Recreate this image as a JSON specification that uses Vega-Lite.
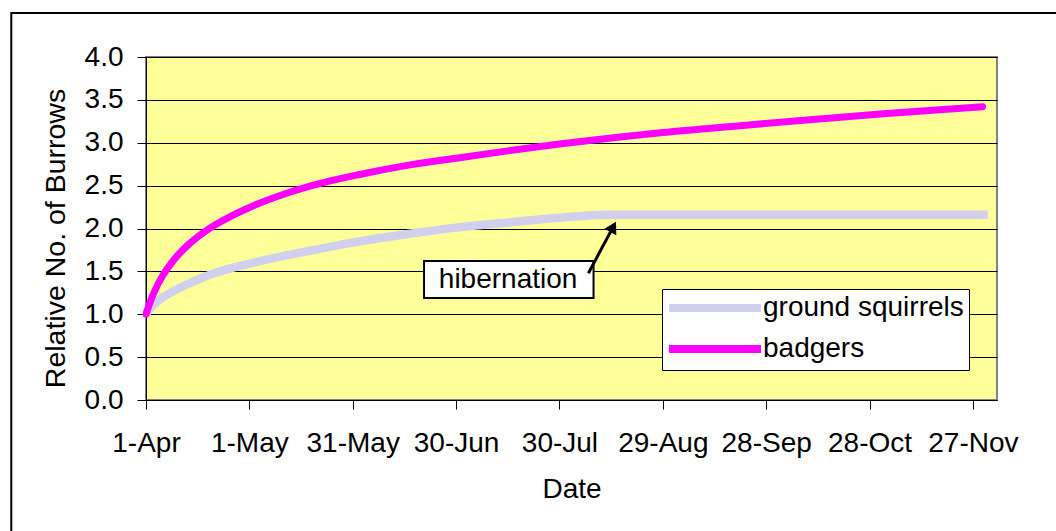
{
  "$schema": "https://vega.github.io/schema/vega-lite/v6.json",
  "width": 851,
  "height": 343,
  "autosize": {"type": "none"},
  "padding": {"left": 146, "top": 57, "right": 59, "bottom": 131},
  "background": "white",
  "config": {
    "font": "Liberation Sans",
    "view": {"fill": "#FFFF99", "stroke": "#808080", "strokeWidth": 2},
    "axis": {
      "labelFont": "Liberation Sans",
      "titleFont": "Liberation Sans",
      "labelColor": "#000000",
      "titleColor": "#000000",
      "labelFontSize": 28,
      "titleFontSize": 28,
      "titleFontWeight": "normal",
      "tickColor": "#000000",
      "tickSize": 9,
      "tickWidth": 1,
      "domainColor": "#000000",
      "domainWidth": 1
    },
    "legend": {
      "orient": "none",
      "legendX": 516,
      "legendY": 232,
      "fillColor": "white",
      "strokeColor": "#000000",
      "padding": 5,
      "symbolType": "M-1.2,0H8.0",
      "symbolSize": 400,
      "symbolStrokeWidth": 8,
      "labelFont": "Liberation Sans",
      "labelFontSize": 28,
      "labelColor": "#000000",
      "labelOffset": 68,
      "rowPadding": 9,
      "labelLimit": 400
    }
  },
  "datasets": {
    "burrows": [
      {"series": "ground squirrels", "day": 0, "value": 1.00},
      {"series": "ground squirrels", "day": 1, "value": 1.06},
      {"series": "ground squirrels", "day": 2.5, "value": 1.12},
      {"series": "ground squirrels", "day": 5, "value": 1.20},
      {"series": "ground squirrels", "day": 8, "value": 1.27},
      {"series": "ground squirrels", "day": 12, "value": 1.35},
      {"series": "ground squirrels", "day": 16, "value": 1.42},
      {"series": "ground squirrels", "day": 20, "value": 1.48},
      {"series": "ground squirrels", "day": 25, "value": 1.54},
      {"series": "ground squirrels", "day": 30, "value": 1.59},
      {"series": "ground squirrels", "day": 40, "value": 1.68},
      {"series": "ground squirrels", "day": 50, "value": 1.76},
      {"series": "ground squirrels", "day": 62, "value": 1.85},
      {"series": "ground squirrels", "day": 75, "value": 1.93},
      {"series": "ground squirrels", "day": 90, "value": 2.01},
      {"series": "ground squirrels", "day": 105, "value": 2.07},
      {"series": "ground squirrels", "day": 120, "value": 2.125},
      {"series": "ground squirrels", "day": 134, "value": 2.16},
      {"series": "ground squirrels", "day": 244.3, "value": 2.16},
      {"series": "badgers", "day": 0, "value": 1.00},
      {"series": "badgers", "day": 1, "value": 1.12},
      {"series": "badgers", "day": 2.5, "value": 1.27},
      {"series": "badgers", "day": 5, "value": 1.46},
      {"series": "badgers", "day": 8, "value": 1.63},
      {"series": "badgers", "day": 12, "value": 1.80},
      {"series": "badgers", "day": 18, "value": 1.99},
      {"series": "badgers", "day": 25, "value": 2.15},
      {"series": "badgers", "day": 32, "value": 2.28},
      {"series": "badgers", "day": 40, "value": 2.40},
      {"series": "badgers", "day": 50, "value": 2.52},
      {"series": "badgers", "day": 62, "value": 2.63},
      {"series": "badgers", "day": 75, "value": 2.73},
      {"series": "badgers", "day": 90, "value": 2.82},
      {"series": "badgers", "day": 105, "value": 2.905},
      {"series": "badgers", "day": 120, "value": 2.985},
      {"series": "badgers", "day": 135, "value": 3.055},
      {"series": "badgers", "day": 150, "value": 3.12},
      {"series": "badgers", "day": 170, "value": 3.19},
      {"series": "badgers", "day": 190, "value": 3.26},
      {"series": "badgers", "day": 215, "value": 3.34},
      {"series": "badgers", "day": 242.8, "value": 3.42}
    ],
    "note": [
      {"label": "hibernation", "day": 80.7, "day2": 129.9, "value": 1.19, "value2": 1.62, "tday": 105.1, "tvalue": 1.305, "aday": 128.4, "avalue": 1.479, "aday2": 135.6, "avalue2": 2.019}
    ],
    "frame": [
      {"day": -39.1, "day2": 400, "value": 4.512, "value2": -6}
    ]
  },
  "layer": [
    {
      "data": {"name": "frame"},
      "mark": {"type": "rect", "fill": "transparent", "stroke": "#000000", "strokeWidth": 2, "clip": false},
      "encoding": {
        "x": {"field": "day", "type": "quantitative"},
        "x2": {"field": "day2"},
        "y": {"field": "value", "type": "quantitative"},
        "y2": {"field": "value2"}
      }
    },
    {
      "data": {"name": "burrows"},
      "transform": [{"filter": "datum.series === 'ground squirrels'"}],
      "mark": {"type": "line", "strokeWidth": 8.5, "strokeCap": "butt", "interpolate": "monotone"},
      "encoding": {
        "x": {
          "field": "day",
          "type": "quantitative",
          "scale": {"domain": [0, 247], "nice": false, "zero": false},
          "axis": {
            "title": "Date",
            "values": [0, 30, 60, 90, 120, 150, 180, 210, 240],
            "labelExpr": "timeFormat(datetime(2001, 3, 1 + datum.value), '%-d-%b')",
            "grid": false,
            "labelFlush": false,
            "labelOverlap": false,
            "labelPadding": 20,
            "titleBaseline": "alphabetic",
            "titleY": 97
          }
        },
        "y": {
          "field": "value",
          "type": "quantitative",
          "scale": {"domain": [0, 4], "nice": false, "zero": false},
          "axis": {
            "title": "Relative No. of Burrows",
            "titleFontSize": 28.5,
            "values": [0, 0.5, 1, 1.5, 2, 2.5, 3, 3.5, 4],
            "format": ".1f",
            "grid": true,
            "gridColor": "#000000",
            "gridOpacity": 1,
            "gridWidth": 1,
            "labelPadding": 14,
            "titleBaseline": "middle",
            "titleX": -91,
            "titleY": 181
          }
        },
        "color": {
          "field": "series",
          "type": "nominal",
          "scale": {"domain": ["ground squirrels", "badgers"], "range": ["#D0D0EE", "#FF00FF"]},
          "legend": {"title": null}
        }
      }
    },
    {
      "data": {"name": "burrows"},
      "transform": [{"filter": "datum.series === 'badgers'"}],
      "mark": {"type": "line", "strokeWidth": 7, "strokeCap": "round", "interpolate": "monotone"},
      "encoding": {
        "x": {"field": "day", "type": "quantitative"},
        "y": {"field": "value", "type": "quantitative"},
        "color": {"field": "series", "type": "nominal"}
      }
    },
    {
      "data": {"name": "note"},
      "mark": {"type": "rect", "fill": "white", "stroke": "#000000", "strokeWidth": 2},
      "encoding": {
        "x": {"field": "day", "type": "quantitative"},
        "x2": {"field": "day2"},
        "y": {"field": "value", "type": "quantitative"},
        "y2": {"field": "value2"}
      }
    },
    {
      "data": {"name": "note"},
      "mark": {"type": "text", "font": "Liberation Sans", "fontSize": 28, "color": "#000000", "align": "center", "baseline": "alphabetic"},
      "encoding": {
        "x": {"field": "tday", "type": "quantitative"},
        "y": {"field": "tvalue", "type": "quantitative"},
        "text": {"field": "label"}
      }
    },
    {
      "data": {"name": "note"},
      "mark": {"type": "rule", "stroke": "#000000", "strokeWidth": 3},
      "encoding": {
        "x": {"field": "aday", "type": "quantitative"},
        "x2": {"field": "aday2"},
        "y": {"field": "avalue", "type": "quantitative"},
        "y2": {"field": "avalue2"}
      }
    },
    {
      "data": {"name": "note"},
      "mark": {"type": "point", "shape": "triangle-up", "filled": true, "fill": "#000000", "stroke": null, "opacity": 1, "size": 180, "angle": 28.4},
      "encoding": {
        "x": {"field": "aday2", "type": "quantitative"},
        "y": {"field": "avalue2", "type": "quantitative"}
      }
    }
  ]
}
